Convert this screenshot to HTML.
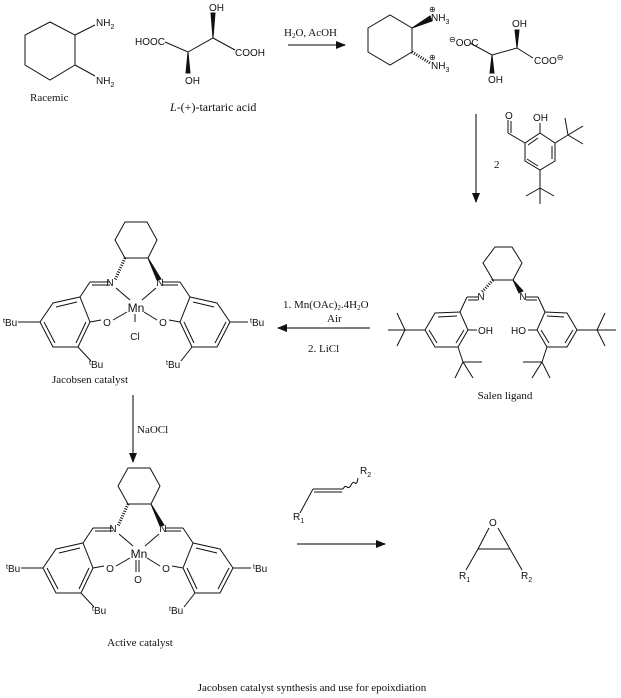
<!DOCTYPE html>
<html><head><meta charset="utf-8"><style>
html,body{margin:0;padding:0;background:#fff;}
svg{display:block;}
.a{font-family:"Liberation Sans",sans-serif;font-size:10px;fill:#111;}
.s{font-family:"Liberation Serif",serif;font-size:11px;fill:#111;}
line,polyline,polygon,path{stroke:#111;stroke-width:1;fill:none;}
.ar{stroke:#555;stroke-width:1.5;}
</style></head><body>
<svg width="621" height="698" viewBox="0 0 621 698" xmlns="http://www.w3.org/2000/svg">
<defs>
<marker id="ah" markerWidth="10" markerHeight="8" refX="9" refY="4" orient="auto" markerUnits="userSpaceOnUse"><polygon points="0,0 10,4 0,8" style="fill:#111;stroke:none"/></marker>
<g id="cat">
 <polygon points="125,222 147,222 157,240 148,258 125,258 115,240"/>
 <line x1="125" y1="258" x2="115" y2="280" stroke-dasharray="1,1.5" style="stroke-width:3"/>
 <polygon points="148,258 157,280 161,279" style="fill:#111"/>
 <line x1="110" y1="282" x2="90" y2="282"/><line x1="110" y1="285" x2="92" y2="285"/>
 <line x1="90" y1="282" x2="80" y2="297"/>
 <line x1="162" y1="282" x2="180" y2="282"/><line x1="162" y1="285" x2="178" y2="285"/>
 <line x1="180" y1="282" x2="190" y2="297"/>
 <line x1="116" y1="288" x2="130" y2="300"/><line x1="156" y1="288" x2="142" y2="300"/>
 <line x1="101" y1="320" x2="90" y2="322"/><line x1="113" y1="320" x2="127" y2="312"/>
 <line x1="169" y1="320" x2="180" y2="322"/><line x1="157" y1="320" x2="144" y2="312"/>
 <polygon points="53,303 80,297 90,322 78,347 53,347 40,322"/>
 <line x1="56" y1="307" x2="77" y2="302"/><line x1="86" y1="322" x2="76" y2="343"/><line x1="44" y1="322" x2="55" y2="343"/>
 <polygon points="217,303 190,297 180,322 192,347 217,347 230,322"/>
 <line x1="214" y1="307" x2="193" y2="302"/><line x1="184" y1="322" x2="194" y2="343"/><line x1="226" y1="322" x2="215" y2="343"/>
 <line x1="40" y1="322" x2="18" y2="322"/><line x1="78" y1="347" x2="91" y2="361"/>
 <line x1="230" y1="322" x2="248" y2="322"/><line x1="192" y1="347" x2="181" y2="361"/>
 <text class="a" x="110" y="286" text-anchor="middle">N</text>
 <text class="a" x="160" y="286" text-anchor="middle">N</text>
 <text class="a" x="136" y="312" text-anchor="middle" style="font-size:12px">Mn</text>
 <text class="a" x="107" y="326" text-anchor="middle">O</text>
 <text class="a" x="163" y="326" text-anchor="middle">O</text>
 <text class="a" x="3" y="326"><tspan style="font-size:7px" dy="-3">t</tspan><tspan dy="3">Bu</tspan></text>
 <text class="a" x="250" y="326"><tspan style="font-size:7px" dy="-3">t</tspan><tspan dy="3">Bu</tspan></text>
 <text class="a" x="89" y="368"><tspan style="font-size:7px" dy="-3">t</tspan><tspan dy="3">Bu</tspan></text>
 <text class="a" x="166" y="368"><tspan style="font-size:7px" dy="-3">t</tspan><tspan dy="3">Bu</tspan></text>
</g>
</defs>

<polygon points="50,22 75,35 75,65 50,80 25,65 25,35"/>
<line x1="75" y1="35" x2="95" y2="25"/><line x1="75" y1="65" x2="95" y2="76"/>
<text class="a" x="96" y="26">NH<tspan style="font-size:7px" dy="3">2</tspan></text>
<text class="a" x="96" y="84">NH<tspan style="font-size:7px" dy="3">2</tspan></text>
<text class="s" x="30" y="101">Racemic</text>

<text class="a" x="135" y="45">HOOC</text>
<polyline points="165,42 188,52 213,38 235,50"/>
<text class="a" x="235" y="56">COOH</text>
<polygon points="213,38 211,13 215,13" style="fill:#111"/>
<text class="a" x="209" y="11">OH</text>
<polygon points="188,52 186,73 190,73" style="fill:#111"/>
<text class="a" x="185" y="84">OH</text>
<text class="s" x="170" y="111" style="font-size:12px"><tspan font-style="italic">L</tspan>-(+)-tartaric acid</text>

<text class="s" x="284" y="36">H<tspan style="font-size:7px" dy="2">2</tspan><tspan dy="-2">O, AcOH</tspan></text>
<line class="ar" x1="288" y1="45" x2="345" y2="45" marker-end="url(#ah)"/>

<polygon points="368,28 390,15 412,28 412,52 390,65 368,52"/>
<polygon points="412,28 430,16 432,21" style="fill:#111"/>
<line x1="412" y1="52" x2="430" y2="63" stroke-dasharray="1,1.5" style="stroke-width:3"/>
<text class="a" x="431" y="21">NH<tspan style="font-size:7px" dy="3">3</tspan></text>
<text class="a" x="431" y="69">NH<tspan style="font-size:7px" dy="3">3</tspan></text>
<text class="a" x="429" y="12" style="font-size:8px">⊕</text>
<text class="a" x="429" y="60" style="font-size:8px">⊕</text>
<text class="a" x="449" y="46"><tspan style="font-size:8px" dy="-4">⊖</tspan><tspan dy="4">OOC</tspan></text>
<polyline points="470,43 492,55 517,48 533,58"/>
<text class="a" x="534" y="64">COO<tspan style="font-size:8px" dy="-4">⊖</tspan></text>
<polygon points="517,48 515,30 519,30" style="fill:#111"/>
<text class="a" x="512" y="27">OH</text>
<polygon points="492,55 490,73 494,73" style="fill:#111"/>
<text class="a" x="488" y="83">OH</text>

<line class="ar" x1="476" y1="114" x2="476" y2="202" marker-end="url(#ah)"/>
<text class="s" x="494" y="168">2</text>
<polygon points="540,133 555,143 555,161 540,170 525,161 525,143"/>
<line x1="552" y1="146" x2="552" y2="159"/><line x1="538" y1="166" x2="527" y2="159"/><line x1="528" y1="145" x2="538" y2="138"/>
<line x1="525" y1="143" x2="508" y2="133"/><line x1="508" y1="133" x2="508" y2="120"/><line x1="511" y1="133" x2="511" y2="121"/>
<text class="a" x="505" y="119">O</text>
<line x1="540" y1="133" x2="540" y2="123"/><text class="a" x="533" y="121">OH</text>
<line x1="555" y1="143" x2="568" y2="135"/><line x1="568" y1="135" x2="565" y2="118"/><line x1="568" y1="135" x2="583" y2="126"/><line x1="568" y1="135" x2="583" y2="144"/>
<line x1="540" y1="170" x2="540" y2="188"/><line x1="540" y1="188" x2="526" y2="196"/><line x1="540" y1="188" x2="554" y2="196"/><line x1="540" y1="188" x2="540" y2="204"/>

<polygon points="495,247 512,247 522,263 513,280 493,280 483,263"/>
<line x1="493" y1="280" x2="482" y2="292" stroke-dasharray="1,1.5" style="stroke-width:3"/>
<polygon points="513,280 519,293 523,291" style="fill:#111"/>
<line x1="478" y1="297" x2="467" y2="297"/><line x1="478" y1="300" x2="468" y2="300"/><line x1="467" y1="297" x2="460" y2="312"/>
<line x1="526" y1="297" x2="538" y2="297"/><line x1="526" y1="300" x2="537" y2="300"/><line x1="538" y1="297" x2="545" y2="312"/>
<text class="a" x="481" y="300" text-anchor="middle">N</text>
<text class="a" x="523" y="300" text-anchor="middle">N</text>
<polygon points="435,313 460,312 468,330 458,347 435,347 425,330"/>
<line x1="438" y1="317" x2="457" y2="316"/><line x1="464" y1="330" x2="456" y2="343"/><line x1="429" y1="330" x2="437" y2="343"/>
<polygon points="567,313 545,312 537,330 547,347 567,347 577,330"/>
<line x1="564" y1="317" x2="547" y2="316"/><line x1="541" y1="330" x2="549" y2="343"/><line x1="573" y1="330" x2="565" y2="343"/>
<line x1="468" y1="330" x2="477" y2="330"/><text class="a" x="478" y="334">OH</text>
<line x1="537" y1="330" x2="528" y2="330"/><text class="a" x="511" y="334">HO</text>
<line x1="425" y1="330" x2="405" y2="330"/><line x1="405" y1="330" x2="397" y2="313"/><line x1="405" y1="330" x2="397" y2="346"/><line x1="405" y1="330" x2="388" y2="330"/>
<line x1="577" y1="330" x2="597" y2="330"/><line x1="597" y1="330" x2="605" y2="313"/><line x1="597" y1="330" x2="605" y2="346"/><line x1="597" y1="330" x2="616" y2="330"/>
<line x1="458" y1="347" x2="463" y2="362"/><line x1="463" y1="362" x2="455" y2="378"/><line x1="463" y1="362" x2="473" y2="378"/><line x1="463" y1="362" x2="482" y2="362"/>
<line x1="547" y1="347" x2="542" y2="362"/><line x1="542" y1="362" x2="532" y2="378"/><line x1="542" y1="362" x2="550" y2="378"/><line x1="542" y1="362" x2="523" y2="362"/>
<text class="s" x="505" y="399" text-anchor="middle">Salen ligand</text>

<text class="s" x="283" y="308">1. Mn(OAc)<tspan style="font-size:7px" dy="2">2</tspan><tspan dy="-2">.4H</tspan><tspan style="font-size:7px" dy="2">2</tspan><tspan dy="-2">O</tspan></text>
<text class="s" x="327" y="322">Air</text>
<line class="ar" x1="370" y1="328" x2="278" y2="328" marker-end="url(#ah)"/>
<text class="s" x="308" y="352">2. LiCl</text>

<use href="#cat"/>
<line x1="135" y1="314" x2="135" y2="322"/>
<text class="a" x="135" y="340" text-anchor="middle">Cl</text>
<text class="s" x="90" y="383" text-anchor="middle">Jacobsen catalyst</text>

<line class="ar" x1="133" y1="395" x2="133" y2="462" marker-end="url(#ah)"/>
<text class="s" x="137" y="433">NaOCl</text>

<g transform="translate(3,246)"><use href="#cat"/>
<line x1="133" y1="314" x2="133" y2="326"/><line x1="136" y1="314" x2="136" y2="326"/>
<text class="a" x="135" y="337" text-anchor="middle">O</text></g>
<text class="s" x="140" y="646" text-anchor="middle">Active catalyst</text>

<line x1="300" y1="513" x2="313" y2="489"/>
<line x1="313" y1="489" x2="343" y2="489"/><line x1="314" y1="492" x2="342" y2="492"/>
<path d="M343,489 q2,-4 4,-2 q2,2 4,-2 q2,-4 4,-2 q2,2 3,-5"/>
<text class="a" x="360" y="474">R<tspan style="font-size:7px" dy="3">2</tspan></text>
<text class="a" x="293" y="520">R<tspan style="font-size:7px" dy="3">1</tspan></text>
<line class="ar" x1="297" y1="544" x2="385" y2="544" marker-end="url(#ah)"/>
<text class="a" x="489" y="526">O</text>
<line x1="489" y1="528" x2="478" y2="549"/><line x1="498" y1="528" x2="510" y2="549"/>
<line x1="478" y1="549" x2="510" y2="549"/>
<line x1="478" y1="549" x2="466" y2="570"/><line x1="510" y1="549" x2="522" y2="570"/>
<text class="a" x="459" y="579">R<tspan style="font-size:7px" dy="3">1</tspan></text>
<text class="a" x="521" y="579">R<tspan style="font-size:7px" dy="3">2</tspan></text>

<text class="s" x="312" y="691" text-anchor="middle">Jacobsen catalyst synthesis and use for epoixdiation</text>
</svg>
</body></html>
